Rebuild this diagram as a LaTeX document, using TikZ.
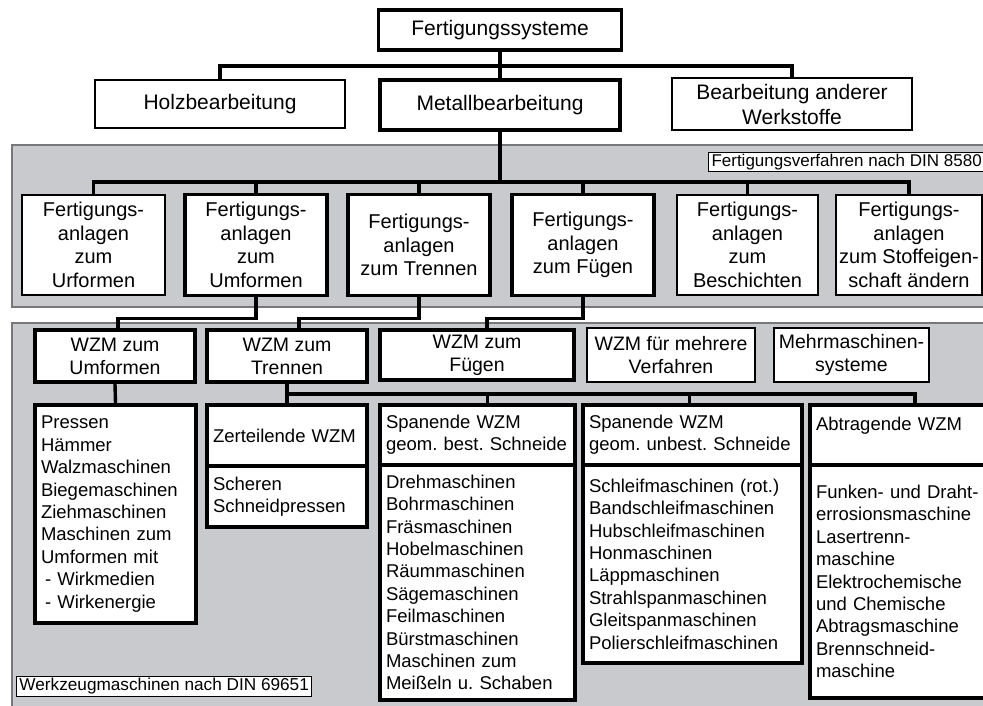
\documentclass[tikz,border=0pt]{standalone}
\usepackage{fontspec}
\setmainfont{Liberation Sans}
\usetikzlibrary{positioning, calc}

\definecolor{panelgray}{RGB}{201,202,205}
\definecolor{panelline}{RGB}{120,120,122}

\newcommand\topfont{\fontsize{21}{25}\selectfont}
\newcommand\midfont{\fontsize{20}{23.5}\selectfont}
\newcommand\wzmfont{\fontsize{19.5}{23}\selectfont}
\newcommand\listfont{\fontsize{18.5}{22.4}\selectfont}
\newcommand\tagfont{\fontsize{17}{20}\selectfont}
\newcommand\indentdash{\mbox{}\hspace{4pt}- }
\frenchspacing

\begin{document}
\begin{tikzpicture}[x=1pt, y=-1pt,
    box/.style={draw, fill=white, line width=1.2pt, align=center, inner sep=0pt},
    heavy/.style={box, line width=3.8pt},
    link/.style={line width=3.4pt},
    list/.style={draw, fill=white, line width=3.8pt, align=left, inner xsep=6pt,
                 inner ysep=0pt, font=\listfont},
    tag/.style={draw, fill=white, line width=1pt, inner xsep=3pt, inner ysep=1.5pt,
                font=\tagfont},
    panel/.style={fill=panelgray, draw=panelline, line width=1.5pt}
  ]
    \useasboundingbox[fill=white] (0,0) rectangle (983,706);

    % Grey panels
    \draw[panel] (12,145) rectangle (995,307);
    \draw[panel] (12,323) rectangle (995,720);

    % Top level
    \node[heavy, minimum width=243pt, minimum height=40pt, font=\topfont] (fs) at (500,30) {Fertigungssysteme};
    \node[box, minimum width=250pt, minimum height=48pt, font=\topfont] (holz) at (220,104) {Holzbearbeitung};
    \node[heavy, minimum width=240pt, minimum height=50pt, font=\topfont] (metall) at (500,105) {Metallbearbeitung};
    \node[box, minimum width=240pt, minimum height=52pt, font=\topfont] (andere) at (792,104) {Bearbeitung anderer\\Werkstoffe};

    % Fertigungsanlagen
    \node[tag, anchor=west] (din8580) at (708,162) {Fertigungsverfahren nach DIN 8580};
    \node[box, minimum width=143pt, minimum height=100pt, font=\midfont] (fa) at (93.5,245) {Fertigungs-\\anlagen\\zum\\Urformen};
    \node[heavy, minimum width=142pt, minimum height=101pt, font=\midfont] (fb) at (256,245) {Fertigungs-\\anlagen\\zum\\Umformen};
    \node[heavy, minimum width=142pt, minimum height=101pt, font=\midfont] (fc) at (419,245) {Fertigungs-\\anlagen\\zum Trennen};
    \node[heavy, minimum width=142pt, minimum height=101pt, font=\midfont] (fd) at (583,245) {Fertigungs-\\anlagen\\zum F\"ugen};
    \node[box, minimum width=141pt, minimum height=100pt, font=\midfont] (fe) at (747.5,245) {Fertigungs-\\anlagen\\zum\\Beschichten};
    \node[box, minimum width=146pt, minimum height=100pt, font=\midfont] (ff) at (909,245) {Fertigungs-\\anlagen\\zum Stoffeigen-\\schaft \"andern};

    % Werkzeugmaschinen
    \node[heavy, minimum width=160pt, minimum height=52pt, font=\wzmfont] (wumf) at (115,356) {WZM zum\\Umformen};
    \node[heavy, minimum width=160pt, minimum height=52pt, font=\wzmfont] (wtre) at (287,356) {WZM zum\\Trennen};
    \node[heavy, minimum width=194pt, minimum height=50pt, font=\wzmfont] (wfue) at (477,355) {WZM zum\\F\"ugen};
    \node[box, minimum width=168pt, minimum height=54pt, font=\wzmfont] (wmeh) at (671,355) {WZM f\"ur mehrere\\Verfahren};
    \node[box, minimum width=155pt, minimum height=54pt, font=\wzmfont] (wsys) at (851.5,355) {Mehrmaschinen-\\systeme};

    % Maschinenlisten
    \node[list, text width=149pt, minimum height=218pt] (pres) at (115.5,514)
      {Pressen\\H\"ammer\\Walzmaschinen\\Biegemaschinen\\Ziehmaschinen\\Maschinen zum\\Umformen mit\\\indentdash Wirkmedien\\\indentdash Wirkenergie};
    \node[list, text width=148pt, minimum height=61pt] (zer) at (287,435.5) {Zerteilende WZM};
    \node[list, text width=148pt, minimum height=61pt] (sche) at (287,496.5) {Scheren\\Schneidpressen};
    \node[list, text width=183pt, minimum height=60pt] (sbest) at (477.5,435) {Spanende WZM\\geom. best. Schneide};
    \node[list, text width=183pt, minimum height=235pt] (lbest) at (477.5,582.5)
      {Drehmaschinen\\Bohrmaschinen\\Fr\"asmaschinen\\Hobelmaschinen\\R\"aummaschinen\\S\"agemaschinen\\Feilmaschinen\\B\"urstmaschinen\\Maschinen zum\\Mei\ss eln u. Schaben};
    \node[list, text width=207pt, minimum height=60pt] (sunb) at (692.5,435) {Spanende WZM\\geom. unbest. Schneide};
    \node[list, text width=207pt, minimum height=198pt] (lunb) at (692.5,564)
      {Schleifmaschinen (rot.)\\Bandschleifmaschinen\\Hubschleifmaschinen\\Honmaschinen\\L\"appmaschinen\\Strahlspanmaschinen\\Gleitspanmaschinen\\Polierschleifmaschinen};
    \node[list, text width=172pt, minimum height=60pt] (abt) at (902,435) {Abtragende WZM\\\mbox{}};
    \node[list, text width=172pt, minimum height=233pt] (labt) at (902,581.5)
      {Funken- und Draht-\\errosionsmaschine\\Lasertrenn-\\maschine\\Elektrochemische\\und Chemische\\Abtragsmaschine\\Brennschneid-\\maschine};
    \node[tag, anchor=west, font=\fontsize{17.2}{20}\selectfont] (din69651) at (16,686.5) {Werkzeugmaschinen nach DIN 69651};

    % Verbindungen
    \foreach \n in {holz, metall, andere}
      \draw[link] (fs.south) -- ++(0,14) -| (\n.north);
    \foreach \n in {fa, fb, fc, fd, fe, ff}
      \draw[link] (metall.south) -- ++(0,50) -| (\n.north);
    \draw[link] (fb.south) -- ++(0,21) -| ([xshift=3pt]wumf.north);
    \draw[link] (fc.south) -- ++(0,21) -| ([xshift=12pt]wtre.north);
    \draw[link] (fd.south) -- ++(0,21) -| ([xshift=10pt]wfue.north);
    \draw[link] (wumf.south) -- (pres.north);
    \draw[link] (wtre.south) -- (zer.north);
    \path (wtre.south) ++(0,10) coordinate (bus);
    \foreach \n/\dx in {sbest/10, sunb/-3, abt/13}
      \draw[link] (wtre.south) -- (bus) -| ([xshift=\dx pt]\n.north);
\end{tikzpicture}
\end{document}
